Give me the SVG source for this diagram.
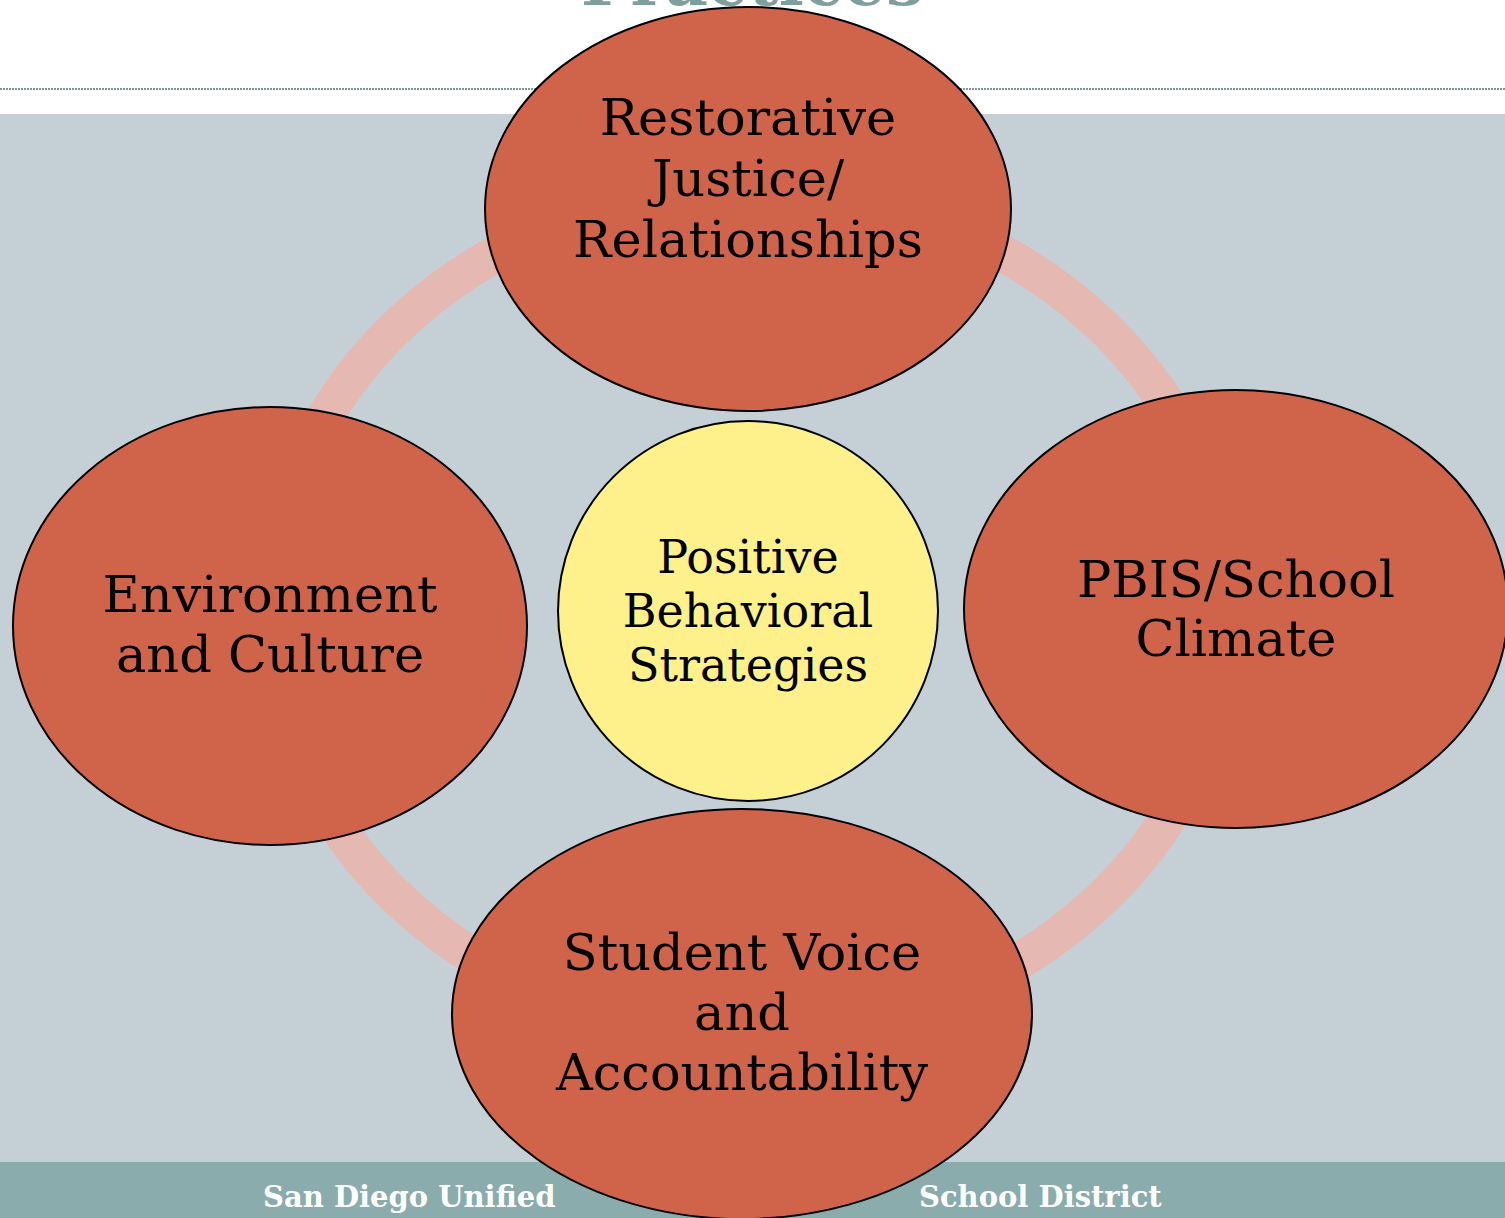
<svg xmlns="http://www.w3.org/2000/svg" width="1505" height="1218" viewBox="0 0 1505 1218">
<style>
.node{fill:#d0644a;stroke:#000;stroke-width:2}
.hub{fill:#fef08a;stroke:#000;stroke-width:2}
.lbl{font-family:"DejaVu Serif","Liberation Serif",serif;font-size:51px;fill:#000;text-anchor:middle}
.hubl{font-family:"DejaVu Serif","Liberation Serif",serif;font-size:46px;fill:#000;text-anchor:middle}
.foot{font-family:"DejaVu Serif","Liberation Serif",serif;font-size:29px;font-weight:bold;fill:#fff}
</style>
<rect x="0" y="0" width="1505" height="1218" fill="#ffffff"/>
<text x="752" y="5" font-family="DejaVu Serif, Liberation Serif, serif" font-size="66" font-weight="bold" fill="#7f9f9f" text-anchor="middle">Practices</text>
<line x1="0" y1="89" x2="1505" y2="89" stroke="#7a9a9a" stroke-width="2" stroke-dasharray="2 1"/>
<rect x="0" y="114" width="1505" height="1048" fill="#c5d0d6"/>
<rect x="0" y="1162" width="1505" height="56" fill="#8aacac"/>
<text class="foot" x="263" y="1207">San Diego Unified</text>
<text class="foot" x="919" y="1207">School District</text>
<g id="connectors">
<ellipse cx="750" cy="612" rx="479" ry="422" fill="none" stroke="#e5b8b2" stroke-width="37"/>
</g>
<g id="node-center">
<circle class="hub" cx="748" cy="611" r="190"/>
<text class="hubl" x="748" y="573">Positive</text>
<text class="hubl" x="748" y="627">Behavioral</text>
<text class="hubl" x="748" y="681">Strategies</text>
</g>
<g id="node-top">
<ellipse class="node" cx="748" cy="209" rx="263" ry="202"/>
<text class="lbl" x="748" y="135">Restorative</text>
<text class="lbl" x="748" y="196">Justice/</text>
<text class="lbl" x="748" y="257">Relationships</text>
</g>
<g id="node-left">
<ellipse class="node" cx="270" cy="626" rx="257" ry="219"/>
<text class="lbl" x="270" y="612">Environment</text>
<text class="lbl" x="270" y="672">and Culture</text>
</g>
<g id="node-right">
<ellipse class="node" cx="1236" cy="609" rx="272" ry="219"/>
<text class="lbl" x="1236" y="597">PBIS/School</text>
<text class="lbl" x="1236" y="656">Climate</text>
</g>
<g id="node-bottom">
<ellipse class="node" cx="742" cy="1014" rx="290" ry="205"/>
<text class="lbl" x="742" y="970">Student Voice</text>
<text class="lbl" x="742" y="1030">and</text>
<text class="lbl" x="742" y="1090">Accountability</text>
</g>
</svg>
